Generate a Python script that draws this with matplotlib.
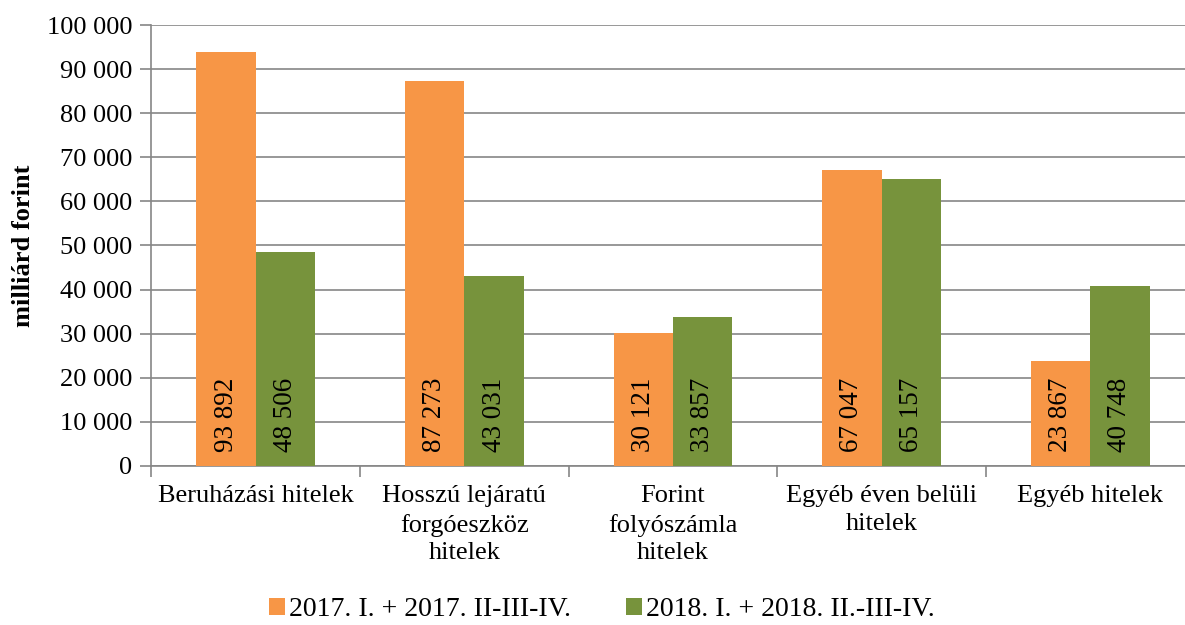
import matplotlib
matplotlib.use("Agg")
import matplotlib.pyplot as plt
import numpy as np
from matplotlib.ticker import FuncFormatter, FixedLocator

plt.rcParams['font.family'] = ['Liberation Serif', 'DejaVu Serif']

categories = ["Beruházási hitelek", "Hosszú lejáratú\nforgóeszköz\nhitelek",
              "Forint\nfolyószámla\nhitelek", "Egyéb éven belüli\nhitelek", "Egyéb hitelek"]
series_names = ["2017. I. + 2017. II-III-IV.", "2018. I. + 2018. II.-III-IV."]
values_2017 = [93892, 87273, 30121, 67047, 23867]
values_2018 = [48506, 43031, 33857, 65157, 40748]
colors = ["#F79646", "#77933C"]

fig = plt.figure(figsize=(11.85, 6.25), dpi=100)
ax = fig.add_axes([151.5/1185, 1-466/625, 1043/1185, 441/625])

x = np.arange(len(categories))
w = 0.285
b1 = ax.bar(x - w/2, values_2017, w, color=colors[0], label=series_names[0], zorder=3)
b2 = ax.bar(x + w/2, values_2018, w, color=colors[1], label=series_names[1], zorder=3)

def fmt(v):
    return f"{int(v):,}".replace(",", " ")

for bars, vals in ((b1, values_2017), (b2, values_2018)):
    for rect, v in zip(bars, vals):
        ax.annotate(fmt(v), (rect.get_x() + rect.get_width()/2, 0),
                    xytext=(0, 10), textcoords="offset points",
                    rotation=90, ha="center", va="bottom", fontsize=19.5, zorder=4)

ax.set_xlim(-0.5, len(categories) - 0.5)
ax.set_ylim(0, 100000)
ax.set_yticks(np.arange(0, 100001, 10000))
ax.yaxis.set_major_formatter(FuncFormatter(lambda v, p: fmt(v)))
ax.grid(axis="y", color="#868686", linewidth=1.2, zorder=0)
ax.set_axisbelow(True)

ax.set_xticks(x)
ax.set_xticklabels(categories, fontsize=19, linespacing=1.34)
ax.tick_params(axis="x", length=0, pad=14)
ax.xaxis.set_minor_locator(FixedLocator(np.arange(-0.5, len(categories), 1.0)))
ax.tick_params(axis="x", which="minor", length=8, color="#868686", width=1.2)
ax.tick_params(axis="y", length=8, color="#868686", width=1.2, labelsize=19, pad=6)

for s in ["top", "right"]:
    ax.spines[s].set_visible(False)
for s in ["left", "bottom"]:
    ax.spines[s].set_color("#868686")
    ax.spines[s].set_linewidth(1.2)

ax.set_ylabel("milliárd forint", fontsize=19, fontweight="bold", labelpad=8)

leg = fig.legend(handles=[b1, b2], labels=series_names, loc="center",
                 bbox_to_anchor=(0.508, 1-610/625), ncol=2, frameon=False,
                 fontsize=20, handlelength=0.55, handleheight=0.55,
                 handletextpad=0.15, columnspacing=2.0)

fig.savefig("out.png", dpi=100)
